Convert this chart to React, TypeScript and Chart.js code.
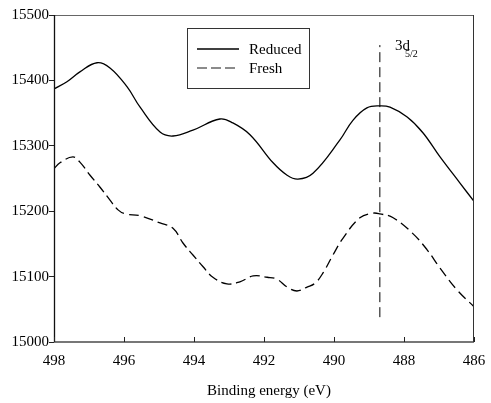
import React, { useEffect, useRef } from "react";
import { Chart, registerables } from "chart.js";
Chart.register(...registerables);

const FONT = "'Liberation Serif', 'Times New Roman', serif";

const reducedEnergy = [498, 497.63, 497.26, 496.77, 496.4, 495.91, 495.54, 494.97, 494.6, 494.03, 493.26, 492.89, 492.4, 491.74, 491.34, 491.03, 490.6, 489.83, 489.46, 489.06, 488.69, 488.4, 487.91, 487.46, 486.97, 486.4, 486.0];
const reducedCounts = [15387, 15398, 15413, 15427, 15419, 15390, 15359, 15321, 15315, 15324, 15341, 15335, 15317, 15274, 15255, 15249, 15258, 15309, 15339, 15358, 15361, 15359, 15344, 15320, 15283, 15243, 15215];

const freshEnergy = [498, 497.83, 497.46, 497.26, 496.97, 496.69, 496.4, 496.17, 495.97, 495.54, 494.97, 494.6, 494.31, 494.03, 493.74, 493.46, 493.06, 492.69, 492.31, 491.91, 491.63, 491.34, 491.06, 490.77, 490.54, 490.31, 490.03, 489.74, 489.26, 488.89, 488.69, 488.31, 487.77, 487.34, 486.97, 486.49, 486.0];
const freshCounts = [15265, 15274, 15283, 15275, 15255, 15237, 15217, 15202, 15196, 15193, 15182, 15174, 15151, 15133, 15115, 15099, 15089, 15092, 15101, 15099, 15096, 15084, 15078, 15084, 15090, 15106, 15133, 15159, 15190, 15197, 15196, 15190, 15167, 15141, 15113, 15080, 15054];

const markerEnergy = [488.69, 488.69];
const markerCounts = [15038, 15454];

const seriesNames = ["Reduced", "Fresh"];
const xTitle = "Binding energy (eV)";
const peakLabel = "3d";
const peakSub = "5/2";

const toPoints = (xs: number[], ys: number[]) => xs.map((x, i) => ({ x, y: ys[i] }));

const decorPlugin = {
  id: "decor",
  afterDraw(chart: any) {
    const { ctx, chartArea } = chart;
    const { left, right, top, bottom } = chartArea;
    const xs = chart.scales.x;
    ctx.save();
    ctx.lineWidth = 1;
    ctx.strokeStyle = "#666";
    ctx.beginPath();
    ctx.moveTo(left, top + 0.5);
    ctx.lineTo(right, top + 0.5);
    ctx.stroke();
    ctx.lineWidth = 2;
    ctx.strokeStyle = "#777";
    ctx.beginPath();
    ctx.moveTo(left, bottom);
    ctx.lineTo(right, bottom);
    ctx.stroke();
    ctx.lineWidth = 1.3;
    ctx.strokeStyle = "#111";
    ctx.beginPath();
    ctx.moveTo(left + 0.5, top);
    ctx.lineTo(left + 0.5, bottom);
    ctx.stroke();
    ctx.lineWidth = 1;
    ctx.strokeStyle = "#333";
    ctx.beginPath();
    ctx.moveTo(right - 0.5, top);
    ctx.lineTo(right - 0.5, bottom);
    ctx.stroke();
    ctx.strokeStyle = "#222";
    ctx.lineWidth = 1;
    xs.ticks.forEach((t: any) => {
      const px = Math.round(xs.getPixelForValue(t.value)) + 0.5;
      ctx.beginPath();
      ctx.moveTo(px, bottom);
      ctx.lineTo(px, bottom - 5);
      ctx.stroke();
    });
    ctx.strokeStyle = "#333";
    ctx.lineWidth = 1;
    ctx.strokeRect(187.5, 28.5, 122, 60);
    ctx.strokeStyle = "#000";
    ctx.lineWidth = 1.3;
    ctx.beginPath();
    ctx.moveTo(197, 49);
    ctx.lineTo(239, 49);
    ctx.stroke();
    ctx.strokeStyle = "#666";
    ctx.setLineDash([10, 4]);
    ctx.beginPath();
    ctx.moveTo(197, 68);
    ctx.lineTo(236, 68);
    ctx.stroke();
    ctx.setLineDash([]);
    ctx.fillStyle = "#000";
    ctx.font = `15px ${FONT}`;
    ctx.textAlign = "left";
    ctx.textBaseline = "alphabetic";
    ctx.fillText(seriesNames[0], 249, 54);
    ctx.fillText(seriesNames[1], 249, 73);
    ctx.fillText(peakLabel, 395, 50);
    ctx.font = `10px ${FONT}`;
    ctx.fillText(peakSub, 405, 57);
    ctx.font = `15px ${FONT}`;
    ctx.textAlign = "center";
    ctx.fillText(xTitle, 269, 395);
    ctx.restore();
  },
};

export default function App() {
  const ref = useRef<HTMLCanvasElement>(null);
  useEffect(() => {
    if (!ref.current) return;
    const chart = new Chart(ref.current, {
      type: "line",
      data: {
        datasets: [
          {
            label: seriesNames[0],
            data: toPoints(reducedEnergy, reducedCounts),
            borderColor: "#000",
            borderWidth: 1.3,
            pointRadius: 0,
            tension: 0.4,
            fill: false,
          },
          {
            label: seriesNames[1],
            data: toPoints(freshEnergy, freshCounts),
            borderColor: "#000",
            borderWidth: 1.3,
            borderDash: [10, 5],
            pointRadius: 0,
            tension: 0.4,
            fill: false,
          },
          {
            label: "marker",
            data: toPoints(markerEnergy, markerCounts),
            borderColor: "#000",
            borderWidth: 1,
            borderDash: [10, 5],
            pointRadius: 0,
            fill: false,
          },
        ],
      },
      options: {
        animation: false,
        responsive: false,
        devicePixelRatio: 1,
        layout: { padding: { top: 15, right: 17, left: 0, bottom: 0 } },
        plugins: { legend: { display: false }, tooltip: { enabled: false } },
        scales: {
          x: {
            type: "linear",
            reverse: true,
            min: 486,
            max: 498,
            afterFit: (s: any) => {
              s.height = 61;
              s.paddingLeft = 0;
              s.paddingRight = 0;
            },
            grid: { display: false, drawTicks: false },
            border: { display: false },
            ticks: {
              stepSize: 2,
              color: "#000",
              padding: 10,
              font: { family: FONT, size: 15 },
              maxRotation: 0,
            },
          },
          y: {
            type: "linear",
            min: 15000,
            max: 15500,
            afterFit: (s: any) => {
              s.width = 54;
              s.paddingTop = 0;
              s.paddingBottom = 0;
            },
            grid: { drawOnChartArea: false, drawTicks: true, tickLength: 5, color: "#222" },
            border: { display: false },
            ticks: {
              stepSize: 100,
              color: "#000",
              padding: 0,
              font: { family: FONT, size: 15 },
              callback: (v: any) => String(v),
            },
          },
        },
      },
      plugins: [decorPlugin],
    } as any);
    return () => chart.destroy();
  }, []);
  return (
    <div style={{ position: "fixed", left: 0, top: 0, width: 491, height: 403, background: "#fff" }}>
      <canvas ref={ref} width={491} height={403} style={{ display: "block" }} />
    </div>
  );
}
